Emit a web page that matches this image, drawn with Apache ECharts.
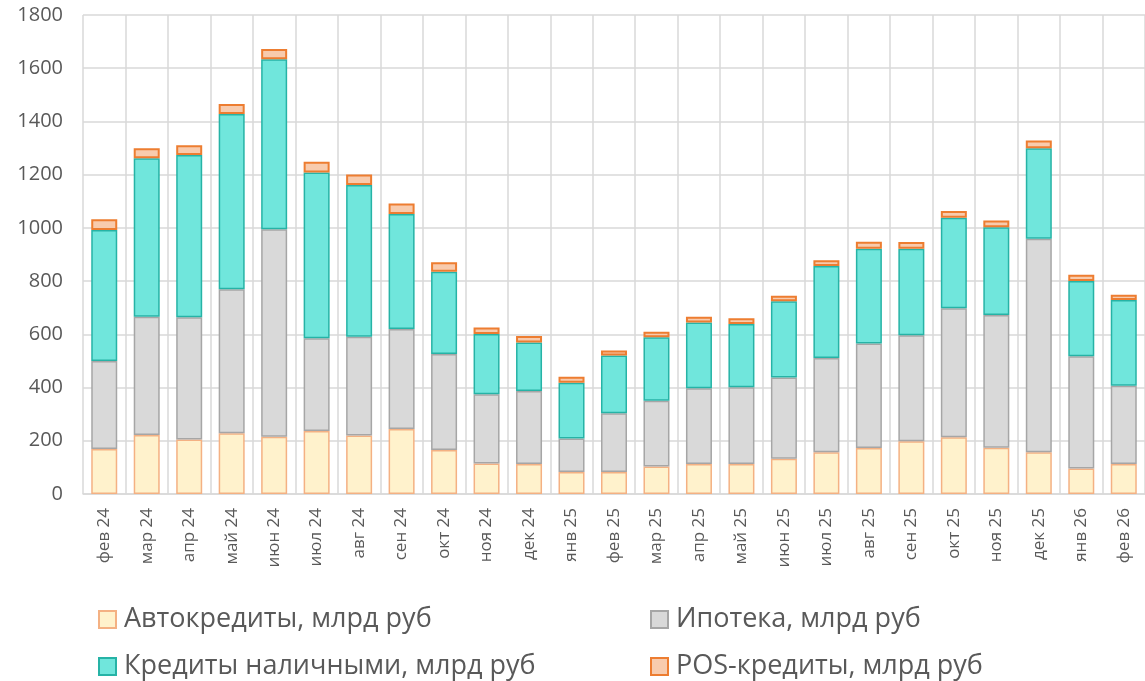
<!DOCTYPE html>
<html>
<head>
<meta charset="utf-8">
<script src="https://cdn.jsdelivr.net/npm/echarts@6/dist/echarts.min.js"></script>
<style>html,body{margin:0;padding:0;background:#fff}#c{width:1145px;height:681px}</style>
</head>
<body>
<div id="c"></div>
<script>
const categories = ['фев 24','мар 24','апр 24','май 24','июн 24','июл 24','авг 24','сен 24','окт 24','ноя 24','дек 24','янв 25','фев 25','мар 25','апр 25','май 25','июн 25','июл 25','авг 25','сен 25','окт 25','ноя 25','дек 25','янв 26','фев 26'];
const autoLoans = [169,222,205,228,215,237,220,244,165,115,113,83,83,103,113,113,132,157,173,198,213,174,157,96,113];
const mortgage = [331,444,459,541,780,348,371,376,361,260,274,126,220,247,284,288,306,354,393,399,485,499,802,422,294];
const cashLoans = [492,596,610,659,639,623,570,432,309,226,182,209,217,239,247,238,286,346,356,325,340,329,340,282,322];
const posLoans = [40,37,37,38,38,41,40,40,36,25,25,23,19,21,22,21,21,21,26,25,25,26,29,24,20];
const yTicks = [0,200,400,600,800,1000,1200,1400,1600,1800];

const names = ['Автокредиты, млрд руб','Ипотека, млрд руб','Кредиты наличными, млрд руб','POS-кредиты, млрд руб'];
const fills = ['#FFF2CC','#D9D9D9','#70E6DC','#F8CBAD'];
const borders = ['#F4B183','#A6A6A6','#26B3A6','#ED7D31'];
const datas = [autoLoans, mortgage, cashLoans, posLoans];
const FONT = '"Open Sans", sans-serif';
const TXT = '#595959';

const series = names.map((n,i)=>({
  name:n, type:'bar', stack:'s', data:datas[i], barWidth:26,
  itemStyle:{color:fills[i], borderColor:borders[i], borderWidth: i===3?2:1.5},
  emphasis:{disabled:true}
}));

const legendPos = [[93,601],[645,601],[93,648],[645,648]];
const legends = names.map((n,i)=>({
  data:[n], left:legendPos[i][0], top:legendPos[i][1], icon:'rect',
  itemWidth:17, itemHeight:17, itemGap:0, selectedMode:false,
  textStyle:{fontFamily:FONT, fontSize:27, color:TXT, padding:[0,0,0,3]}
}));

const chart = echarts.init(document.getElementById('c'), null, {renderer:'canvas'});
chart.setOption({
  animation:false,
  legend: legends,
  grid:{left:83, top:15, width:1067, height:479},
  xAxis:{
    type:'category', data:categories, boundaryGap:true,
    axisLine:{lineStyle:{color:'#D9D9D9', width:1.5}},
    axisTick:{show:false},
    splitLine:{show:true, interval:0, lineStyle:{color:'#D9D9D9', width:1.5}},
    axisLabel:{rotate:90, interval:0, margin:14, fontFamily:FONT, fontSize:17, color:TXT}
  },
  yAxis:{
    type:'value', min:yTicks[0], max:yTicks[yTicks.length-1], interval:200,
    axisLine:{show:false}, axisTick:{show:false},
    splitLine:{lineStyle:{color:'#D9D9D9', width:1.5}},
    axisLabel:{margin:20, fontFamily:FONT, fontSize:20, color:TXT, formatter:v=>String(v)}
  },
  series: series
});
</script>
</body>
</html>
